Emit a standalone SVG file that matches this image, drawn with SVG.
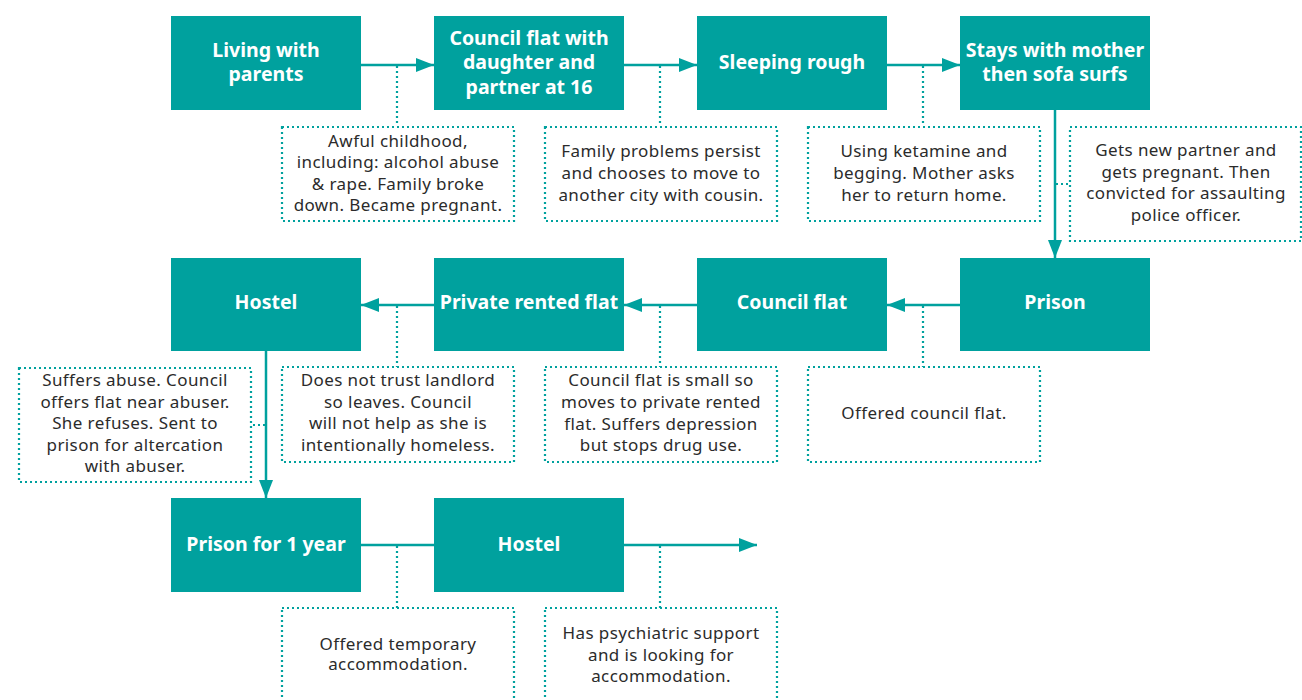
<svg xmlns="http://www.w3.org/2000/svg" width="1302" height="700" viewBox="0 0 1302 700">
<defs>
<style>
.n{fill:#00A19E}
.t{font-family:"Noto Sans","Open Sans",sans-serif;font-weight:bold;font-size:19.5px;fill:#fff;text-anchor:middle}
.b{fill:#fff;stroke:#00A19E;stroke-width:2.2;stroke-dasharray:2 3}
.d{fill:none;stroke:#00A19E;stroke-width:2.2;stroke-dasharray:2 3}
.c{fill:none;stroke:#00A19E;stroke-width:2.5}
.x{font-family:"Noto Sans","Open Sans",sans-serif;font-size:17px;letter-spacing:0.4px;fill:#2b2b2b;text-anchor:middle}
</style>
<marker id="ah" viewBox="0 0 18 14" refX="18" refY="7" markerWidth="18" markerHeight="14" markerUnits="userSpaceOnUse" orient="auto" overflow="visible">
<path d="M0,0 L18,7 L0,14 z" fill="#00A19E"/>
</marker>
</defs>
<g id="connectors">
<line class="c" x1="361" y1="65" x2="434" y2="65" marker-end="url(#ah)"/>
<line class="c" x1="624" y1="65" x2="697" y2="65" marker-end="url(#ah)"/>
<line class="c" x1="887" y1="65" x2="960" y2="65" marker-end="url(#ah)"/>
<line class="c" x1="1055" y1="110" x2="1055" y2="258" marker-end="url(#ah)"/>
<line class="c" x1="960" y1="305" x2="887" y2="305" marker-end="url(#ah)"/>
<line class="c" x1="697" y1="305" x2="624" y2="305" marker-end="url(#ah)"/>
<line class="c" x1="434" y1="305" x2="361" y2="305" marker-end="url(#ah)"/>
<line class="c" x1="266" y1="351" x2="266" y2="498" marker-end="url(#ah)"/>
<line class="c" x1="361" y1="545" x2="434" y2="545"/>
<line class="c" x1="624" y1="545" x2="757" y2="545" marker-end="url(#ah)"/>
<path class="d" d="M397,66 V126 M660,66 V126 M923,66 V126 M1056,184 H1070 M923,306 V367 M660,306 V367 M397,306 V367 M253,425 H265 M397,546 V608 M660,546 V608"/>
</g>
<g id="n1"><rect class="n" x="171" y="16" width="190" height="94"/><text class="t" x="266" y="57">Living with</text><text class="t" x="266" y="81">parents</text></g>
<g id="n2"><rect class="n" x="434" y="16" width="190" height="94"/><text class="t" x="529" y="45">Council flat with</text><text class="t" x="529" y="69">daughter and</text><text class="t" x="529" y="94">partner at 16</text></g>
<g id="n3"><rect class="n" x="697" y="16" width="190" height="94"/><text class="t" x="792" y="69">Sleeping rough</text></g>
<g id="n4"><rect class="n" x="960" y="16" width="190" height="94"/><text class="t" x="1055" y="57">Stays with mother</text><text class="t" x="1055" y="81">then sofa surfs</text></g>
<g id="n5"><rect class="n" x="960" y="258" width="190" height="93"/><text class="t" x="1055" y="309">Prison</text></g>
<g id="n6"><rect class="n" x="697" y="258" width="190" height="93"/><text class="t" x="792" y="309">Council flat</text></g>
<g id="n7"><rect class="n" x="434" y="258" width="190" height="93"/><text class="t" x="529" y="309">Private rented flat</text></g>
<g id="n8"><rect class="n" x="171" y="258" width="190" height="93"/><text class="t" x="266" y="309">Hostel</text></g>
<g id="n9"><rect class="n" x="171" y="498" width="190" height="94"/><text class="t" x="266" y="551">Prison for 1 year</text></g>
<g id="n10"><rect class="n" x="434" y="498" width="190" height="94"/><text class="t" x="529" y="551">Hostel</text></g>
<g id="note1"><rect class="b" x="282" y="127" width="232" height="94"/><text class="x" x="398" y="147">Awful childhood,</text><text class="x" x="398" y="168">including: alcohol abuse</text><text class="x" x="398" y="190">&amp; rape. Family broke</text><text class="x" x="398" y="211">down. Became pregnant.</text></g>
<g id="note2"><rect class="b" x="545" y="127" width="232" height="94"/><text class="x" x="661" y="157">Family problems persist</text><text class="x" x="661" y="179">and chooses to move to</text><text class="x" x="661" y="201">another city with cousin.</text></g>
<g id="note3"><rect class="b" x="808" y="127" width="232" height="94"/><text class="x" x="924" y="157">Using ketamine and</text><text class="x" x="924" y="179">begging. Mother asks</text><text class="x" x="924" y="201">her to return home.</text></g>
<g id="note4"><rect class="b" x="1070" y="127" width="231" height="114"/><text class="x" x="1186" y="156">Gets new partner and</text><text class="x" x="1186" y="178">gets pregnant. Then</text><text class="x" x="1186" y="199">convicted for assaulting</text><text class="x" x="1186" y="221">police officer.</text></g>
<g id="note5"><rect class="b" x="808" y="367" width="232" height="95"/><text class="x" x="924" y="419">Offered council flat.</text></g>
<g id="note6"><rect class="b" x="545" y="367" width="232" height="95"/><text class="x" x="661" y="386">Council flat is small so</text><text class="x" x="661" y="408">moves to private rented</text><text class="x" x="661" y="430">flat. Suffers depression</text><text class="x" x="661" y="451">but stops drug use.</text></g>
<g id="note7"><rect class="b" x="282" y="367" width="232" height="95"/><text class="x" x="398" y="386">Does not trust landlord</text><text class="x" x="398" y="408">so leaves. Council</text><text class="x" x="398" y="429">will not help as she is</text><text class="x" x="398" y="451">intentionally homeless.</text></g>
<g id="note8"><rect class="b" x="19" y="368" width="232" height="114"/><text class="x" x="135" y="386">Suffers abuse. Council</text><text class="x" x="135" y="408">offers flat near abuser.</text><text class="x" x="135" y="429">She refuses. Sent to</text><text class="x" x="135" y="451">prison for altercation</text><text class="x" x="135" y="472">with abuser.</text></g>
<g id="note9"><rect class="b" x="282" y="608" width="232" height="110"/><text class="x" x="398" y="650">Offered temporary</text><text class="x" x="398" y="670">accommodation.</text></g>
<g id="note10"><rect class="b" x="545" y="608" width="232" height="110"/><text class="x" x="661" y="639">Has psychiatric support</text><text class="x" x="661" y="661">and is looking for</text><text class="x" x="661" y="682">accommodation.</text></g>
</svg>
